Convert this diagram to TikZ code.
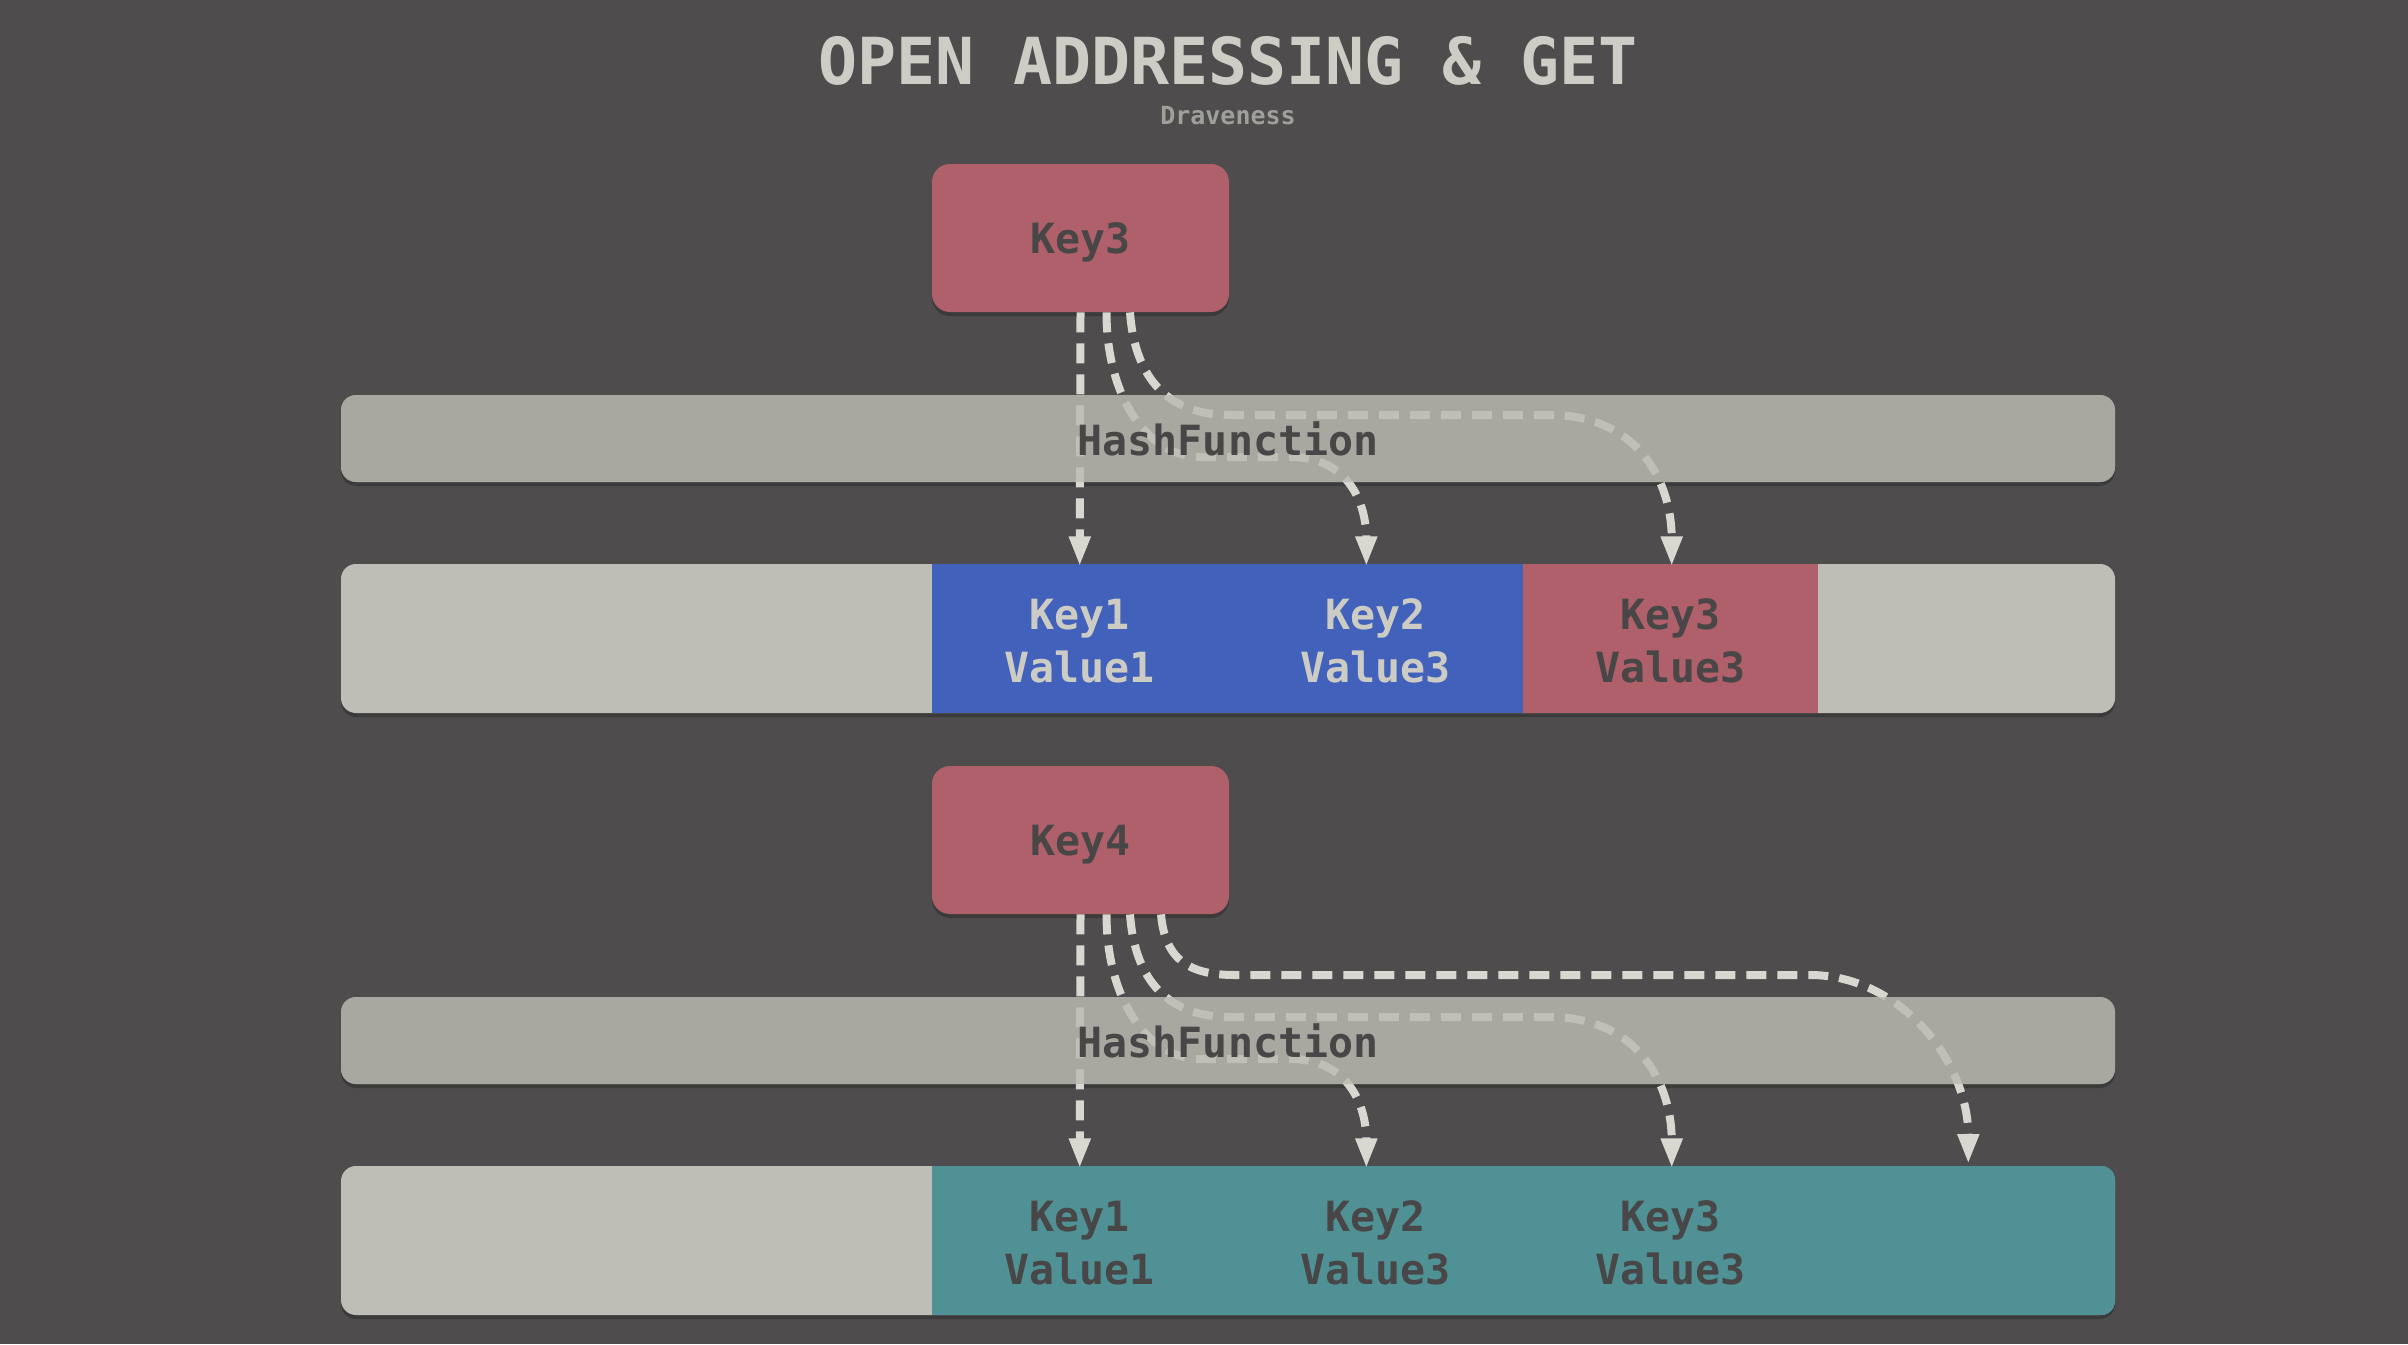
\documentclass[tikz,border=0pt]{standalone}
\usepackage{fontspec}
\setmonofont{DejaVu Sans Mono}
\usetikzlibrary{arrows.meta,calc,shadows}
\definecolor{bgc}{RGB}{78,76,76}
\definecolor{titlec}{RGB}{205,205,198}
\definecolor{subc}{RGB}{160,160,154}
\definecolor{keyred}{RGB}{176,96,106}
\definecolor{darktext}{RGB}{72,70,70}
\definecolor{lighttext}{RGB}{204,204,196}
\definecolor{hashcol}{RGB}{168,168,160}
\definecolor{arrcol}{RGB}{190,190,182}
\definecolor{bluec}{RGB}{66,97,186}
\definecolor{tealc}{RGB}{80,145,150}
\definecolor{flowc}{RGB}{216,216,208}
\begin{document}
\begin{tikzpicture}[x=0.5pt,y=-0.5pt,
  shad/.style={drop shadow={shadow xshift=0pt,shadow yshift=-2pt,opacity=0.22,fill=black}},
  txt/.style={font=\ttfamily\bfseries\fontsize{20.8}{26.5}\selectfont},
  keybox/.style={txt,fill=keyred,rounded corners=9pt,minimum width=148.5pt,minimum height=74pt,inner sep=0pt,text=darktext,text depth=0pt},
  hashbar/.style={txt,fill=hashcol,rounded corners=7.5pt,minimum width=887pt,minimum height=43.5pt,inner sep=0pt,text=darktext},
  arrbar/.style={fill=arrcol,rounded corners=7.5pt,minimum width=887pt,minimum height=74.5pt,inner sep=0pt},
  cellbox/.style={txt,minimum width=147.7pt,minimum height=74.5pt,inner sep=0pt,align=center,yshift=-1.2pt},
  flow/.style={draw=flowc,line width=4pt,dash pattern=on 10pt off 5.5pt,-{Triangle[width=10pt,length=15pt]}}
]
\useasboundingbox (0,0) rectangle (2408,1344);
\fill[bgc] (0,0) rectangle (2408,1344);

\node[font=\ttfamily\bfseries\fontsize{32.4}{36}\selectfont,text=titlec,inner sep=0pt] (title) at (1228,61) {OPEN ADDRESSING \& GET};
\node[font=\ttfamily\bfseries\fontsize{12.5}{14}\selectfont,text=subc,inner sep=0pt] (sub) at (1228,116) {Draveness};

% ---------- top group ----------
\node[keybox,shad] (k1) at (1080.5,238) {Key3};
\node[hashbar,shad] (hash1) at (1228,438.5) {};
\node[arrbar,shad] (arr1) at (1228,638.5) {};
\fill[bluec] (932,564) rectangle (1523,713);
\fill[keyred] (1522.5,564) rectangle (1818,713);
\node[cellbox,text=lighttext] (c11) at (1079.7,638.5) {Key1\\Value1};
\node[cellbox,text=lighttext] (c12) at (1375.3,638.5) {Key2\\Value3};
\node[cellbox,text=darktext] (c13) at (1670.7,638.5) {Key3\\Value3};

\draw[flow] (k1.south) -- ($(c11.north)+(0,0.4)$);
\draw[flow] ($(k1.south)+(26,0)$) .. controls +(0,88) and +(-50,0) .. ($(hash1.center)+(-28,18.5)$)
   -- ($(hash1.center)+(62,18.5)$) .. controls +(60,0) and +(0,-61) .. ($(c12.north)+(-9,0.4)$);
\draw[flow] ($(k1.south)+(49.5,0)$) .. controls +(5,68) and +(-60,0) .. ($(hash1.center)+(2,-23.5)$)
   -- ($(hash1.center)+(322,-23.5)$) .. controls +(90,0) and +(0,-82) .. ($(c13.north)+(1,0.4)$);

\node[hashbar,fill opacity=0.5,text opacity=1] (hash1l) at (hash1.center) {HashFunction};

% ---------- bottom group ----------
\node[keybox,shad] (k2) at (1080.5,840) {Key4};
\node[hashbar,shad] (hash2) at (1228,1040.5) {};
\node[arrbar,shad] (arr2) at (1228,1240.5) {};
\begin{scope}
  \clip[rounded corners=7.5pt] (arr2.south west) rectangle (arr2.north east);
  \fill[tealc] (932,1166) rectangle (arr2.south east);
\end{scope}
\node[cellbox,text=darktext] (c21) at (1079.7,1240.5) {Key1\\Value1};
\node[cellbox,text=darktext] (c22) at (1375.3,1240.5) {Key2\\Value3};
\node[cellbox,text=darktext] (c23) at (1670.7,1240.5) {Key3\\Value3};
\coordinate (c24) at (1966.3,1166);

\draw[flow] (k2.south) -- ($(c21.north)+(0,0.4)$);
\draw[flow] ($(k2.south)+(26,0)$) .. controls +(0,88) and +(-50,0) .. ($(hash2.center)+(-28,18.5)$)
   -- ($(hash2.center)+(62,18.5)$) .. controls +(60,0) and +(0,-61) .. ($(c22.north)+(-9,0.4)$);
\draw[flow] ($(k2.south)+(49.5,0)$) .. controls +(5,68) and +(-60,0) .. ($(hash2.center)+(2,-23.5)$)
   -- ($(hash2.center)+(322,-23.5)$) .. controls +(90,0) and +(0,-82) .. ($(c23.north)+(1,0.4)$);
\draw[flow] ($(k2.south)+(80.5,0)$) .. controls +(4,46) and +(-45,0) .. ($(hash2.center)+(7,-65.5)$)
   -- ($(hash2.center)+(582,-65.5)$) .. controls +(90,0) and +(0,-103) .. ($(c24)+(2,-2)$);

\node[hashbar,fill opacity=0.5,text opacity=1] (hash2l) at (hash2.center) {HashFunction};
\end{tikzpicture}
\end{document}
